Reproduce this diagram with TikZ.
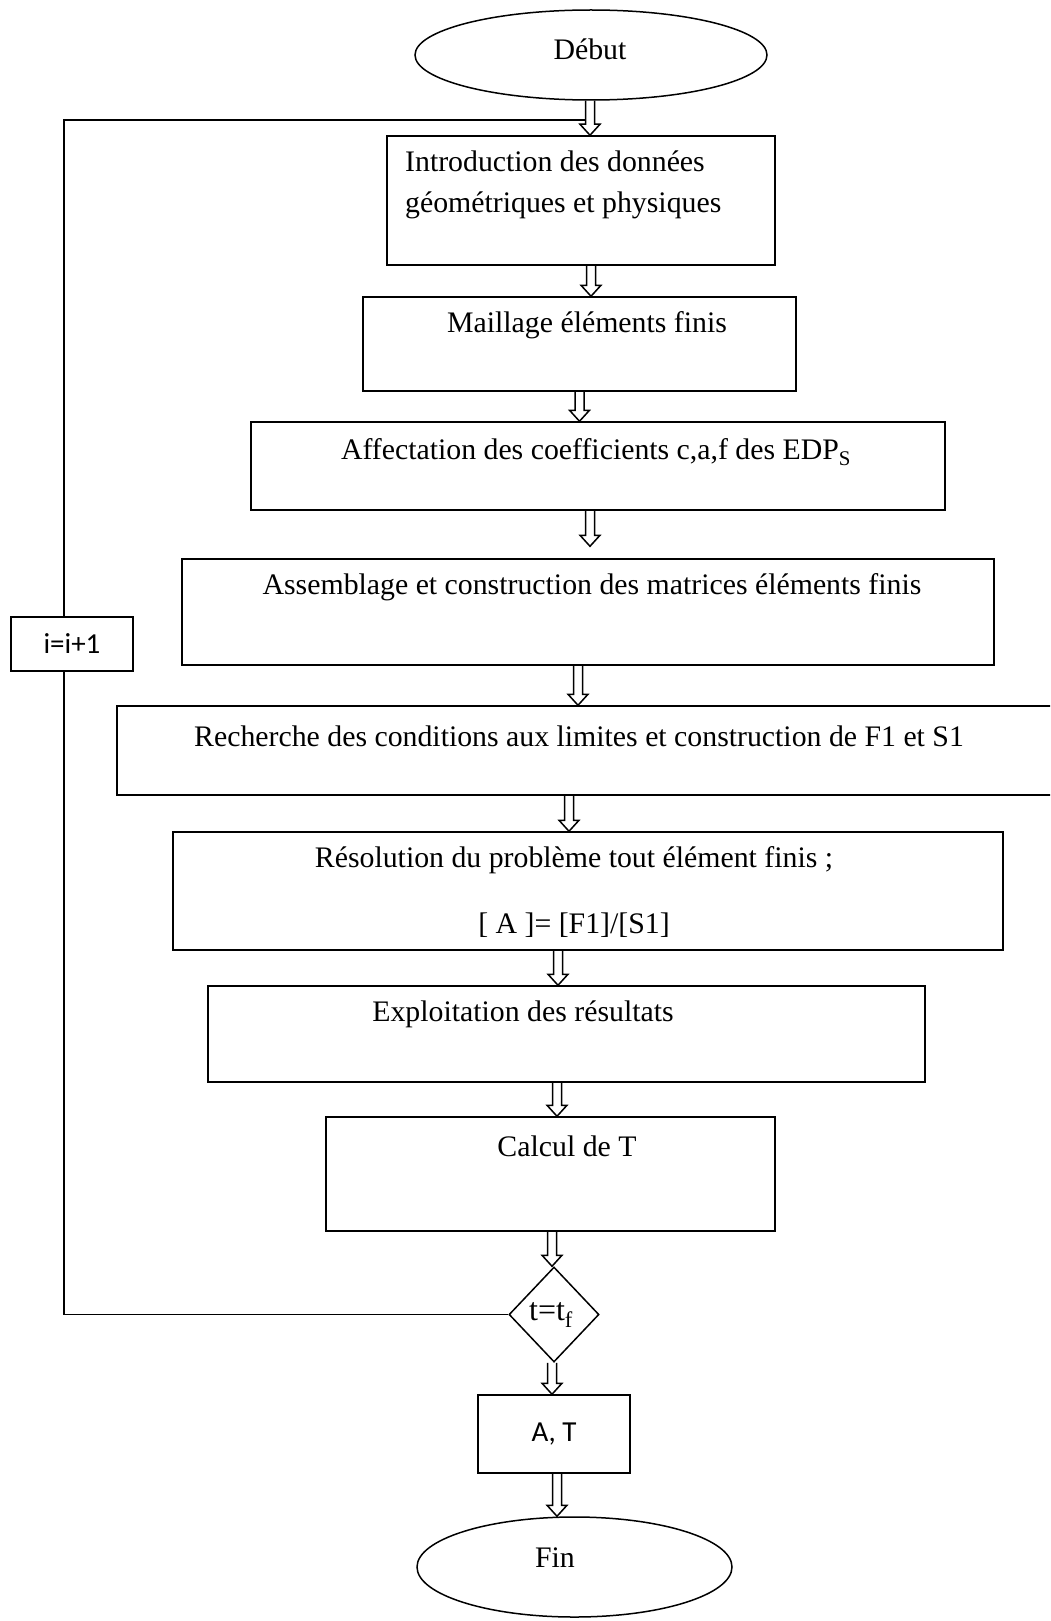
\documentclass[tikz,border=0pt]{standalone}
\usepackage{fontspec}
\setmainfont{Liberation Serif}
\newfontfamily\calibri{Carlito}
\usetikzlibrary{shapes.geometric,calc}
\tikzset{box/.style={draw,line width=1.5pt,fill=white,inner sep=0pt},
txt/.style={inner sep=0pt},
hollow/.style={line width=1.5pt,line join=miter,to path={let \p1=(\tikztostart),\p2=(\tikztotarget) in
 (\x1-4.5pt,\y1)--(\x1-4.5pt,\y2+11pt)--(\x1-10pt,\y2+11pt)--(\x1,\y2)--(\x1+10pt,\y2+11pt)--(\x1+4.5pt,\y2+11pt)--(\x1+4.5pt,\y1)}}}
\begin{document}
\begin{tikzpicture}[x=1pt,y=-1pt,font=\fontsize{29.8}{41}\selectfont]
\clip (0,0) rectangle (1050,1621);
\node[box,ellipse,minimum width=352pt,minimum height=90pt](deb) at (591,55){};
\node[txt](t0) at (590,49){Début};
\node[box,minimum width=388pt,minimum height=129pt](b1) at (581,200.5){};
\node[txt,anchor=west,align=left](t1) at (405,185){Introduction des données\\géométriques et physiques};
\node[box,minimum width=433pt,minimum height=94pt](b2) at (579.5,344){};
\node[txt](t2) at (587,325){Maillage éléments finis};
\node[box,minimum width=694pt,minimum height=88pt](b3) at (598,466){};
\node[txt](t3) at (596,452){Affectation des coefficients c,a,f des EDP\textsubscript{S}};
\node[box,minimum width=812pt,minimum height=106pt](b4) at (588,612){};
\node[txt](t4) at (592,587){Assemblage et construction des matrices éléments finis};
\node[box,minimum width=942pt,minimum height=89pt](b5) at (588,750.5){};
\node[txt](t5) at (579,736){Recherche des conditions aux limites et construction de F1 et S1};
\node[box,minimum width=830pt,minimum height=118pt](b6) at (588,891){};
\node[txt,align=center](t6) at (574,892){Résolution du problème tout élément finis ;\\[25pt][ A ]= [F1]/[S1]};
\node[box,minimum width=717pt,minimum height=96pt](b7) at (566.5,1034){};
\node[txt](t7) at (523,1014){Exploitation des résultats};
\node[box,minimum width=449pt,minimum height=114pt](b8) at (550.5,1174){};
\node[txt](t8) at (567,1146){Calcul de T};
\node[box,diamond,minimum width=90pt,minimum height=95pt](dec) at (554,1314.5){};
\node[txt,font=\fontsize{32}{38}\selectfont](td) at (551,1315){t=t\textsubscript{f}};
\node[box,minimum width=152pt,minimum height=78pt,font=\calibri\fontsize{29}{35}\selectfont](res) at (554,1434){A, T};
\node[box,ellipse,minimum width=315pt,minimum height=100pt](fin) at (574.5,1567){};
\node[txt](t9) at (555,1558){Fin};
\node[box,minimum width=122pt,minimum height=54pt,font=\calibri\fontsize{29}{35}\selectfont](inc) at (72,644){i=i+1};
\coordinate (ent) at (586,120);
\draw[line width=1.5pt] (dec.west) -| ([xshift=-8pt]inc.south) ([xshift=-8pt]inc.north) |- (ent);
\draw[hollow] ([xshift=-1pt]deb.south) to (b1.north);
\draw[hollow] ([xshift=10pt]b1.south) to (b2.north);
\draw[hollow] (b2.south) to (b3.north);
\draw[hollow] ([xshift=-8pt]b3.south) to ([yshift=12pt]b4.north);
\draw[hollow] ([xshift=-10pt]b4.south) to (b5.north);
\draw[hollow] ([xshift=-19pt]b5.south) to (b6.north);
\draw[hollow] ([xshift=-30pt]b6.south) to (b7.north);
\draw[hollow] ([xshift=-9.5pt]b7.south) to (b8.north);
\draw[hollow] ([xshift=1.5pt]b8.south) to (dec.north);
\draw[hollow] ([xshift=-2pt]dec.south) to (res.north);
\draw[hollow] ([xshift=3pt]res.south) to (fin.north);
\end{tikzpicture}
\end{document}
